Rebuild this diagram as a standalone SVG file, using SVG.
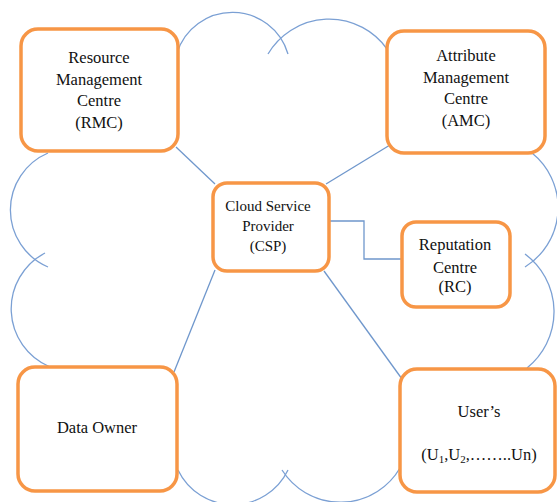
<svg xmlns="http://www.w3.org/2000/svg" width="557" height="502" viewBox="0 0 557 502">
<style>
.cloud{fill:none;stroke:#7BA0D4;stroke-width:1.3}
.conn{fill:none;stroke:#6F97CC;stroke-width:1.3}
.box{fill:#fff;stroke:#F79646;stroke-width:3.5}
.t{font-family:"Liberation Serif","Times New Roman",serif;font-size:16.5px;fill:#111;text-anchor:middle}
.sub{font-size:11px}
</style>
<rect width="557" height="502" fill="#fff"/>
<g id="cloud">
<path class="cloud" d="M177,53 A58,58 0 0 1 288,54"/>
<path class="cloud" d="M268,54 A71,71 0 0 1 387,49"/>
<path class="cloud" d="M532,153 A70,70 0 0 1 525,267"/>
<path class="cloud" d="M525,254 A72,72 0 0 1 527,368"/>
<path class="cloud" d="M48,153 A62,62 0 0 0 48,267"/>
<path class="cloud" d="M45,253 A63,63 0 0 0 50,367"/>
<path class="cloud" d="M178,470 A61,61 0 0 0 288,470"/>
<path class="cloud" d="M282,470 A69,69 0 0 0 400,468"/>
</g>
<g id="connectors">
<line class="conn" x1="176" y1="147" x2="215" y2="184"/>
<line class="conn" x1="390" y1="145" x2="326" y2="184"/>
<line class="conn" x1="215" y1="270" x2="174" y2="372"/>
<line class="conn" x1="324" y1="271" x2="402" y2="379"/>
<path class="conn" d="M329,221 H364 V259 H402"/>
</g>
<g id="rmc">
<rect class="box" x="21" y="29" width="157" height="122" rx="17"/>
<text class="t" x="99" y="63">Resource</text>
<text class="t" x="99" y="85">Management</text>
<text class="t" x="99" y="106">Centre</text>
<text class="t" x="99" y="128">(RMC)</text>
</g>
<g id="amc">
<rect class="box" x="387" y="31" width="158" height="122" rx="17"/>
<text class="t" x="466" y="61">Attribute</text>
<text class="t" x="466" y="83">Management</text>
<text class="t" x="466" y="104">Centre</text>
<text class="t" x="466" y="126">(AMC)</text>
</g>
<g id="csp">
<rect class="box" x="213" y="183" width="116" height="88" rx="14"/>
<text class="t" x="268" y="211" style="font-size:15px">Cloud Service</text>
<text class="t" x="268" y="231" style="font-size:15px">Provider</text>
<text class="t" x="268" y="251" style="font-size:15px">(CSP)</text>
</g>
<g id="rc">
<rect class="box" x="402" y="222" width="108" height="85" rx="14"/>
<text class="t" x="455" y="250">Reputation</text>
<text class="t" x="455" y="273">Centre</text>
<text class="t" x="455" y="292">(RC)</text>
</g>
<g id="dataowner">
<rect class="box" x="18" y="367" width="159" height="124" rx="17"/>
<text class="t" x="97" y="433">Data Owner</text>
</g>
<g id="users">
<rect class="box" x="400" y="369" width="155" height="123" rx="17"/>
<text class="t" x="479" y="417">User’s</text>
<text class="t" x="479" y="460">(U<tspan class="sub" dy="3">1</tspan><tspan dy="-3">,U</tspan><tspan class="sub" dy="3">2</tspan><tspan dy="-3">,……..Un)</tspan></text>
</g>
</svg>
